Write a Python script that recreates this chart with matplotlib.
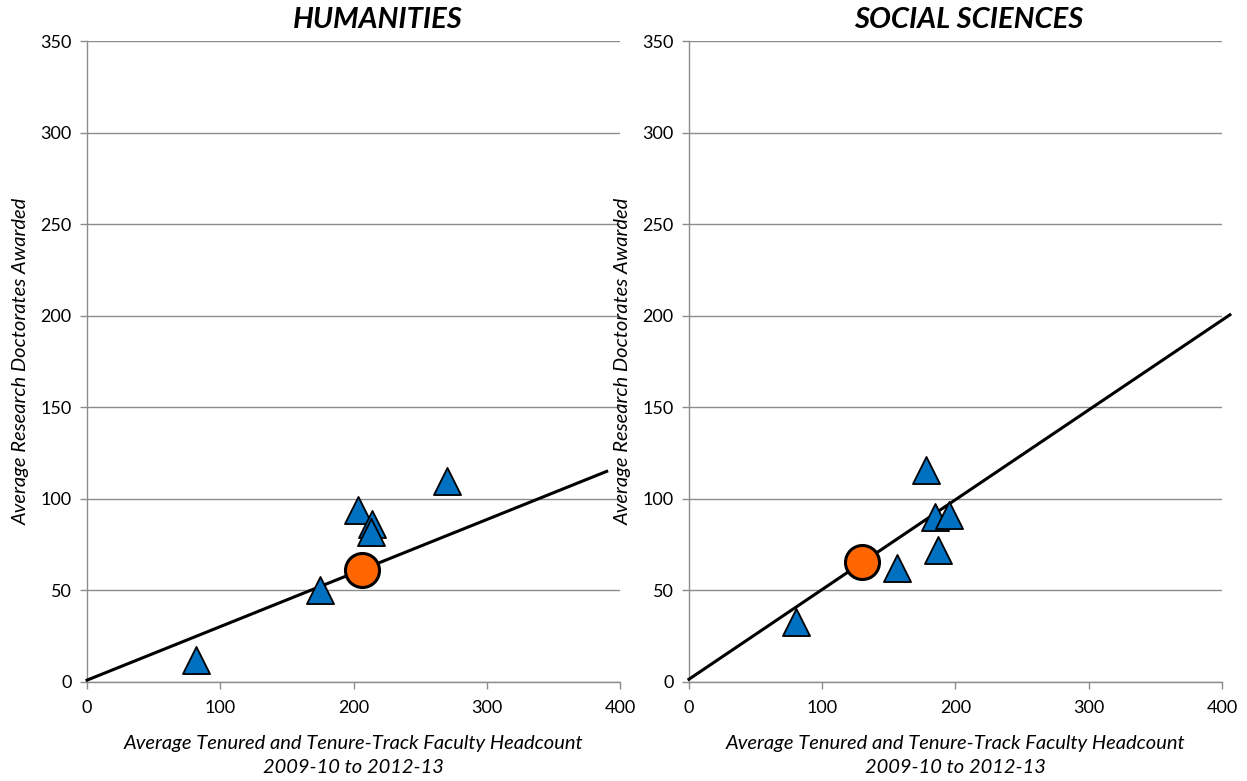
import numpy as np
import matplotlib
matplotlib.use("Agg")
import matplotlib.pyplot as plt

plt.rcParams['font.family'] = ['Lato', 'DejaVu Sans']

# Humanities: faculty headcount vs doctorates awarded
hum_x = [82, 175, 203, 214, 213, 270]
hum_y = [12, 50, 94, 86, 82, 110]
hum_inst_x = [206]
hum_inst_y = [61]
hum_fit_x = [0, 390]
hum_fit_y = [1, 115]

# Social sciences
soc_x = [178, 185, 195, 187, 156, 80]
soc_y = [116, 90, 91, 72, 62, 33]
soc_inst_x = [130]
soc_inst_y = [65.5]
soc_fit_x = [0, 406]
soc_fit_y = [1.5, 200.5]

x_ticks = [0, 100, 200, 300, 400]
y_ticks = [0, 50, 100, 150, 200, 250, 300, 350]

BLUE = '#0070C0'
ORANGE = '#FF6600'
GRID = '#8c8c8c'

fig = plt.figure(figsize=(12.47, 7.81), dpi=100)

panels = [
    ("HUMANITIES", 0.0698, 0.546, hum_x, hum_y, hum_inst_x, hum_inst_y, hum_fit_x, hum_fit_y),
    ("SOCIAL SCIENCES", 0.5525, 0.525, soc_x, soc_y, soc_inst_x, soc_inst_y, soc_fit_x, soc_fit_y),
]

for title, left, title_x, px, py, ix, iy, fx, fy in panels:
    ax = fig.add_axes([left, 0.1268, 0.4274, 0.8207])
    ax.set_xlim(0, 400)
    ax.set_ylim(0, 350)
    ax.set_xticks(x_ticks)
    ax.set_yticks(y_ticks)
    ax.grid(axis='y', color=GRID, linewidth=1)
    ax.set_axisbelow(True)
    for side in ('top', 'right'):
        ax.spines[side].set_visible(False)
    for side in ('left', 'bottom'):
        ax.spines[side].set_color(GRID)
        ax.spines[side].set_linewidth(1)
    ax.tick_params(axis='both', direction='out', length=5, width=1, color=GRID,
                   labelsize=13, pad=6)
    ax.tick_params(axis='x', pad=8)

    ax.plot(fx, fy, color='black', linewidth=2.2, clip_on=False, zorder=3)
    ax.scatter(px, py, marker='^', s=19.5 ** 2, color=BLUE, edgecolors='black',
               linewidths=1.3, zorder=4, clip_on=False)
    ax.scatter(ix, iy, marker='o', s=24.5 ** 2, color=ORANGE, edgecolors='black',
               linewidths=2.2, zorder=5, clip_on=False)

    ax.text(title_x, 1.0 + 21 / 640, title, transform=ax.transAxes, ha='center',
            va='center', fontsize=21, fontweight='bold', fontstyle='italic')
    ax.set_ylabel("Average Research Doctorates Awarded", fontsize=14.5,
                  fontstyle='italic', labelpad=8)
    ax.set_xlabel("Average Tenured and Tenure-Track Faculty Headcount\n2009-10 to 2012-13",
                  fontsize=14.5, fontstyle='italic', labelpad=14, linespacing=1.45)

fig.savefig("out.png", dpi=100, facecolor='white')
